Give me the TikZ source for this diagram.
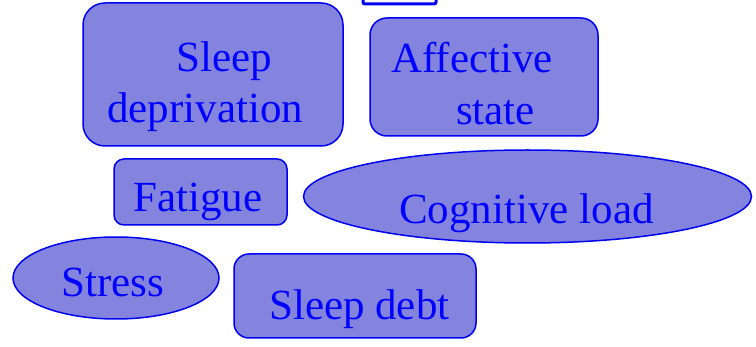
\documentclass[tikz,border=0pt]{standalone}
\usepackage{fontspec}
\setmainfont{Liberation Serif}
\definecolor{boxfill}{RGB}{132,132,222}
\definecolor{boxline}{RGB}{0,0,240}
\definecolor{txt}{RGB}{0,0,255}
\begin{document}
\begin{tikzpicture}[x=1pt,y=-1pt,
  shapebox/.style={draw=boxline,fill=boxfill,line width=1.5pt},
  lbl/.style={anchor=base west,inner sep=0pt,text=txt,font=\fontsize{43}{48}\selectfont}]
\useasboundingbox (0,0) rectangle (756,347);
% top partial box
\draw[draw=boxline,fill=white,line width=3pt,rounded corners=2pt] (363,-12) rectangle (436,4);
% Sleep deprivation
\draw[shapebox,rounded corners=22pt] (83,3) rectangle (343,146);
\node[lbl] (sd1) at (176,72) {Sleep};
\node[lbl] (sd2) at (107,123) {deprivation};
% Affective state
\draw[shapebox,rounded corners=17pt] (370,18) rectangle (598,136);
\node[lbl] (af1) at (391,73) {Affective};
\node[lbl] (af2) at (456,125) {state};
% Fatigue
\draw[shapebox,rounded corners=10pt] (114,159) rectangle (287,225);
\node[lbl] (fa) at (133,212) {Fatigue};
% Cognitive load
\draw[shapebox] (527.5,196.5) ellipse [x radius=224, y radius=46.5];
\node[lbl] (cl) at (399,224) {Cognitive load};
% Stress
\draw[shapebox] (116,278) ellipse [x radius=103, y radius=41];
\node[lbl] (st) at (61,297) {Stress};
% Sleep debt
\draw[shapebox,rounded corners=15pt] (234,254) rectangle (476,338);
\node[lbl] (sdb) at (269,320) {Sleep debt};
\end{tikzpicture}
\end{document}
